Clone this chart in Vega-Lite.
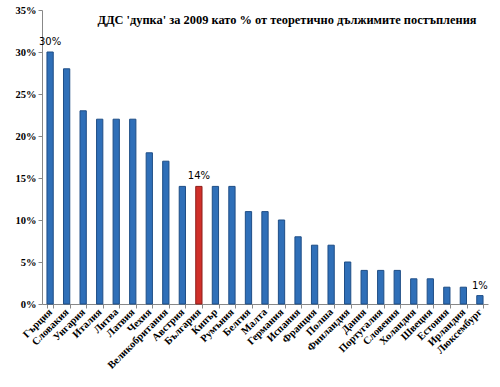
{
  "$schema": "https://vega.github.io/schema/vega-lite/v6.json",
  "width": 446,
  "height": 294,
  "autosize": {"type": "none"},
  "padding": {"left": 42, "top": 10, "right": 12, "bottom": 83},
  "background": "white",
  "config": {"view": {"stroke": null}},
  "title": {"text": "ДДС 'дупка'  за 2009 като % от теоретично дължимите постъпления", "font": "Liberation Serif", "fontSize": 12.4, "fontWeight": "bold", "color": "#000", "anchor": "middle", "dx": 22, "offset": -21},
  "data": {"values": [
    {"c": "Гърция", "v": 30, "bg": "n"},
    {"c": "Словакия", "v": 28, "bg": "n"},
    {"c": "Унгария", "v": 23, "bg": "n"},
    {"c": "Италия", "v": 22, "bg": "n"},
    {"c": "Литва", "v": 22, "bg": "n"},
    {"c": "Латвия", "v": 22, "bg": "n"},
    {"c": "Чехия", "v": 18, "bg": "n"},
    {"c": "Великобритания", "v": 17, "bg": "n"},
    {"c": "Австрия", "v": 14, "bg": "n"},
    {"c": "България", "v": 14, "bg": "y"},
    {"c": "Кипър", "v": 14, "bg": "n"},
    {"c": "Румъния", "v": 14, "bg": "n"},
    {"c": "Белгия", "v": 11, "bg": "n"},
    {"c": "Малта", "v": 11, "bg": "n"},
    {"c": "Германия", "v": 10, "bg": "n"},
    {"c": "Испания", "v": 8, "bg": "n"},
    {"c": "Франция", "v": 7, "bg": "n"},
    {"c": "Полша", "v": 7, "bg": "n"},
    {"c": "Финландия", "v": 5, "bg": "n"},
    {"c": "Дания", "v": 4, "bg": "n"},
    {"c": "Португалия", "v": 4, "bg": "n"},
    {"c": "Словения", "v": 4, "bg": "n"},
    {"c": "Холандия", "v": 3, "bg": "n"},
    {"c": "Швеция", "v": 3, "bg": "n"},
    {"c": "Естония", "v": 2, "bg": "n"},
    {"c": "Ирландия", "v": 2, "bg": "n"},
    {"c": "Люксембург", "v": 1, "bg": "n"}
  ]},
  "encoding": {
    "x": {"field": "c", "type": "nominal", "sort": null, "title": null,
      "scale": {"paddingInner": 0.62, "paddingOuter": 0.3},
      "axis": {"labelAngle": -45, "labelAlign": "right", "labelBaseline": "middle", "labelFont": "Liberation Serif", "labelFontSize": 10.5, "labelFontWeight": "bold", "labelColor": "#000", "domainColor": "#888", "tickColor": "#888", "tickBand": "extent", "tickSize": 4, "labelPadding": 2}},
    "y": {"field": "v", "type": "quantitative", "title": null,
      "scale": {"domain": [0, 35]},
      "axis": {"values": [0, 5, 10, 15, 20, 25, 30, 35], "labelExpr": "datum.value + '%'", "grid": false, "labelFont": "Liberation Serif", "labelFontSize": 10.5, "labelFontWeight": "bold", "labelColor": "#000", "domainColor": "#888", "tickColor": "#888", "tickSize": 4}}
  },
  "layer": [
    {"mark": {"type": "bar", "strokeWidth": 1},
      "encoding": {
        "color": {"field": "bg", "type": "nominal", "scale": {"domain": ["n", "y"], "range": ["#2F6FB8", "#D0302A"]}, "legend": null},
        "stroke": {"field": "bg", "type": "nominal", "scale": {"domain": ["n", "y"], "range": ["#1F4E86", "#8E1F1B"]}, "legend": null}
      }},
    {"transform": [
        {"filter": "datum.c == 'Гърция' || datum.c == 'България' || datum.c == 'Люксембург'"},
        {"calculate": "datum.v + '%'", "as": "lbl"}
      ],
      "mark": {"type": "text", "dy": -10, "font": "DejaVu Sans", "fontSize": 10, "color": "#000"},
      "encoding": {"text": {"field": "lbl", "type": "nominal"}}}
  ]
}
